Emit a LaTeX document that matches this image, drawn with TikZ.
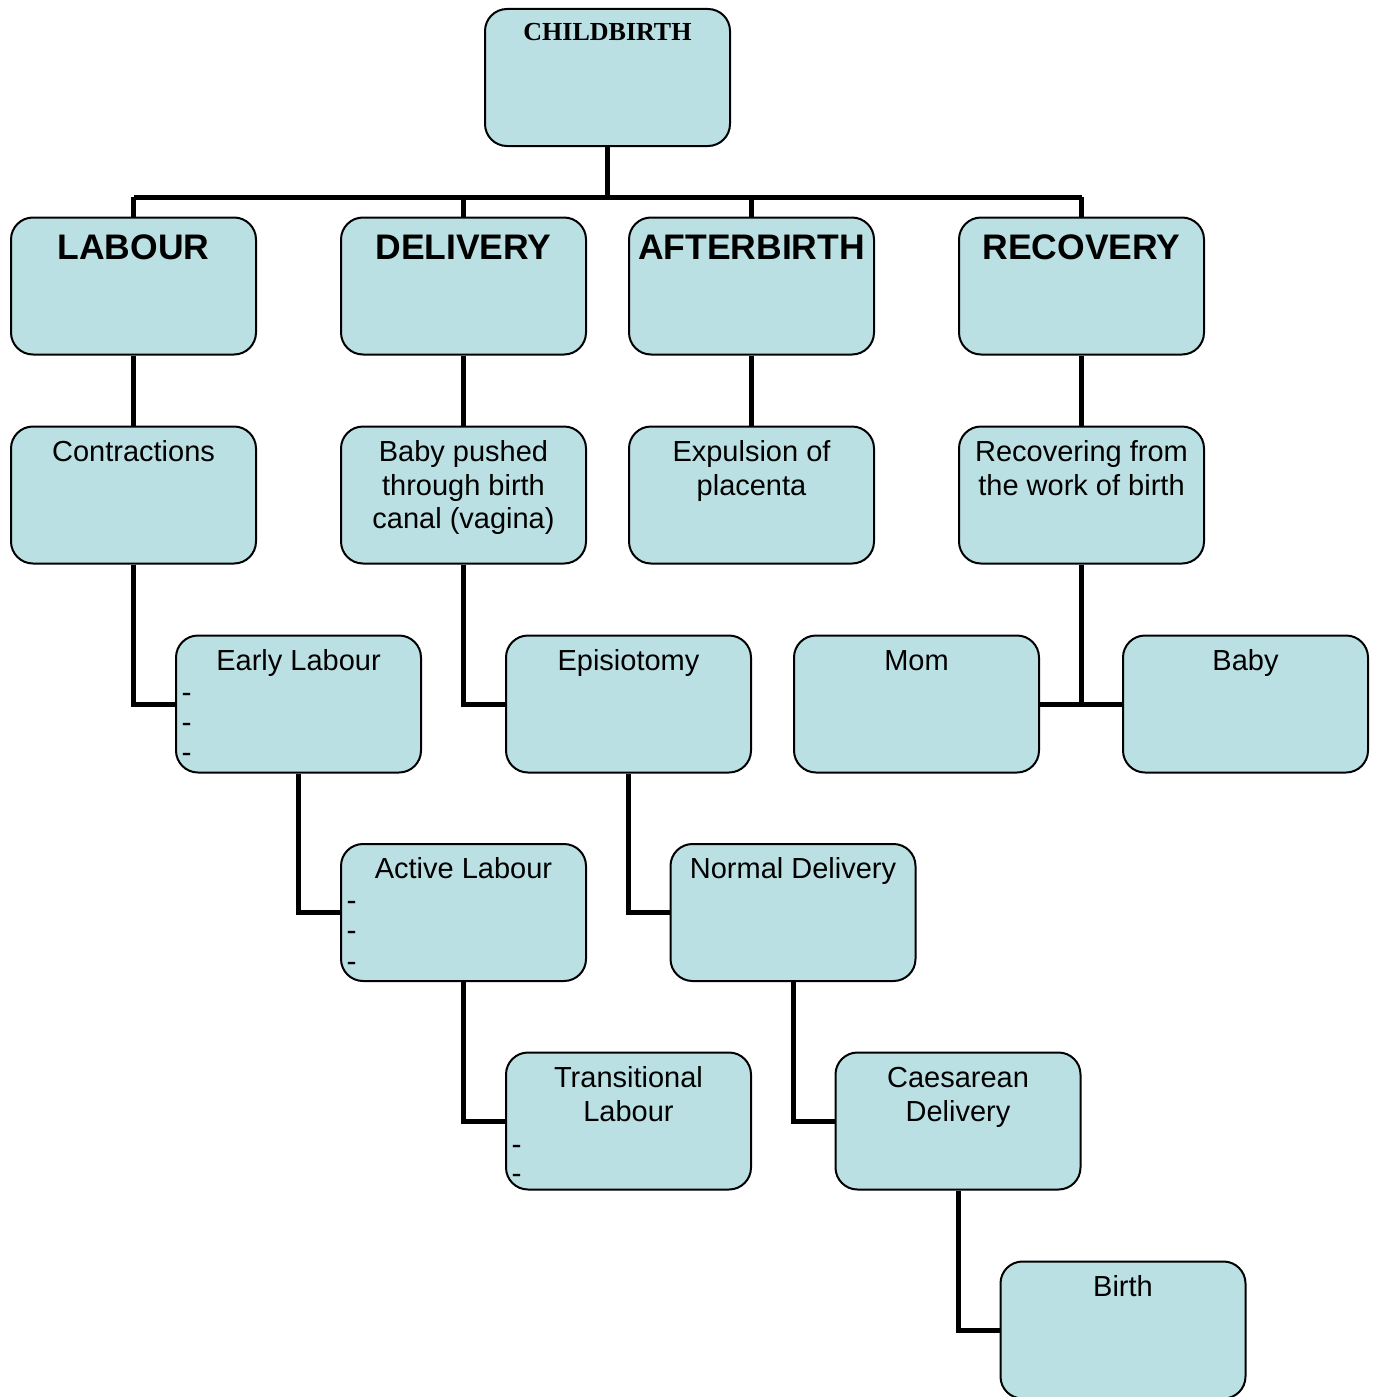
\documentclass[tikz,border=0pt]{standalone}
\usepackage{fontspec}
\setmainfont{Liberation Sans}
\newfontfamily\titleserif{Liberation Serif}
\definecolor{boxfill}{HTML}{BBE0E3}
\begin{document}
\begin{tikzpicture}[x=1pt,y=-1pt,
  cbox/.style={draw=black, line width=2pt, fill=boxfill, rounded corners=22pt,
    minimum width=245pt, minimum height=137pt, inner sep=0pt},
  conn/.style={line width=5pt, line join=miter},
  lbl/.style={anchor=base, inner sep=0pt, font=\fontsize{29}{34}\selectfont},
  head/.style={anchor=base, inner sep=0pt, font=\fontsize{35.5}{40}\selectfont\bfseries},
  dashmark/.style={anchor=base west, inner sep=0pt, font=\fontsize{30}{30}\selectfont}
]
\useasboundingbox (0,0) rectangle (1374,1397);
\coordinate (bar) at (607.5,197);
% boxes
\node[cbox] (cb) at (607.5,77.5) {};
\node[cbox] (lab) at (133.5,286) {};
\node[cbox] (del) at (463.5,286) {};
\node[cbox] (aft) at (751.5,286) {};
\node[cbox] (rec) at (1081.5,286) {};
\node[cbox] (con) at (133.5,495) {};
\node[cbox] (push) at (463.5,495) {};
\node[cbox] (exp) at (751.5,495) {};
\node[cbox] (rcv) at (1081.5,495) {};
\node[cbox] (early) at (298.5,704) {};
\node[cbox] (epi) at (628.5,704) {};
\node[cbox] (mom) at (916.5,704) {};
\node[cbox] (baby) at (1245.5,704) {};
\node[cbox] (active) at (463.5,912.5) {};
\node[cbox] (normal) at (793,912.5) {};
\node[cbox] (trans) at (628.5,1121) {};
\node[cbox] (caes) at (958,1121) {};
\node[cbox] (birth) at (1123,1330) {};
% connectors
\draw[conn] (cb.south) -- (bar);
\draw[conn] (lab.north |- bar) -- (rec.north |- bar);
\foreach \n in {lab,del,aft,rec} \draw[conn] (\n.north |- bar) -- (\n.north);
\draw[conn] (lab.south) -- (con.north);
\draw[conn] (del.south) -- (push.north);
\draw[conn] (aft.south) -- (exp.north);
\draw[conn] (rec.south) -- (rcv.north);
\draw[conn] (con.south) |- (early.west);
\draw[conn] (early.south) |- (active.west);
\draw[conn] (active.south) |- (trans.west);
\draw[conn] (push.south) |- (epi.west);
\draw[conn] (epi.south) |- (normal.west);
\draw[conn] (normal.south) |- (caes.west);
\draw[conn] (caes.south) |- (birth.west);
\draw[conn] (rcv.south) -- (rcv.south |- mom.east);
\draw[conn] (mom.east) -- (baby.west);
% texts
\node[anchor=base, inner sep=0pt, font=\titleserif\fontsize{26}{30}\selectfont\bfseries] (tcb) at (607.5,41) {CHILDBIRTH};
\node[head] (tlab) at (133.5,259) {LABOUR};
\node[head] (tdel) at (463.5,259) {DELIVERY};
\node[head] (taft) at (751.5,259) {AFTERBIRTH};
\node[head] (trec) at (1081.5,259) {RECOVERY};
\node[lbl] (tcon) at (133.5,461) {Contractions};
\node[lbl] (tpush1) at (463.5,461) {Baby pushed};
\node[lbl] (tpush2) at (463.5,495) {through birth};
\node[lbl] (tpush3) at (463.5,528) {canal (vagina)};
\node[lbl] (texp1) at (751.5,461) {Expulsion of};
\node[lbl] (texp2) at (751.5,495) {placenta};
\node[lbl] (trcv1) at (1081.5,461) {Recovering from};
\node[lbl] (trcv2) at (1081.5,495) {the work of birth};
\node[lbl] (tearly) at (298.5,670) {Early Labour};
\node[lbl] (tepi) at (628.5,670) {Episiotomy};
\node[lbl] (tmom) at (916.5,670) {Mom};
\node[lbl] (tbaby) at (1245.5,670) {Baby};
\node[lbl] (tactive) at (463.5,878) {Active Labour};
\node[lbl] (tnormal) at (793,878) {Normal Delivery};
\node[lbl] (ttrans1) at (628.5,1087) {Transitional};
\node[lbl] (ttrans2) at (628.5,1121) {Labour};
\node[lbl] (tcaes1) at (958,1087) {Caesarean};
\node[lbl] (tcaes2) at (958,1121) {Delivery};
\node[lbl] (tbirth) at (1123,1296) {Birth};
% dashes
\node[dashmark] (d1) at (181.5,702) {-};
\node[dashmark] (d2) at (181.5,732) {-};
\node[dashmark] (d3) at (181.5,762) {-};
\node[dashmark] (d4) at (346.5,910) {-};
\node[dashmark] (d5) at (346.5,940) {-};
\node[dashmark] (d6) at (346.5,971) {-};
\node[dashmark] (d7) at (511.5,1154) {-};
\node[dashmark] (d8) at (511.5,1183) {-};
\end{tikzpicture}
\end{document}
